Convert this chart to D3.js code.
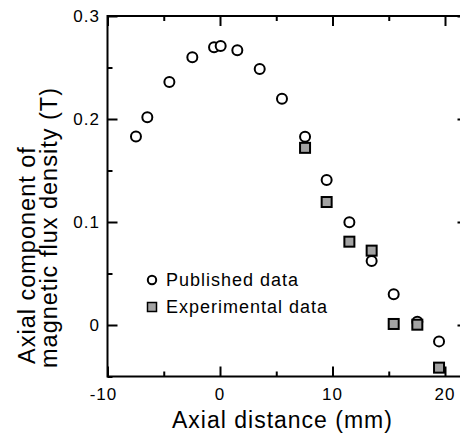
<!DOCTYPE html>
<html>
<head>
<meta charset="utf-8">
<script src="https://cdn.jsdelivr.net/npm/d3@7"></script>
<style>
  body { margin: 0; background: #fff; }
  text { font-family: "Liberation Sans", Arial, sans-serif; fill: #000; letter-spacing: 1px; }
</style>
</head>
<body>
<div id="chart"></div>
<script>
// published data (circles)
var pubX = [-7.47, -6.46, -4.5, -2.46, -0.53, 0.06, 1.54, 3.53, 5.51, 7.56, 9.48, 11.5, 13.48, 15.44, 17.54, 19.47];
var pubY = [0.183, 0.2016, 0.236, 0.26, 0.2696, 0.2709, 0.2667, 0.2485, 0.2197, 0.1828, 0.1408, 0.0997, 0.0621, 0.0298, 0.0032, -0.0159];

// experimental data (squares)
var expX = [7.56, 9.48, 11.5, 13.48, 15.44, 17.54, 19.47];
var expY = [0.172, 0.1194, 0.0809, 0.0722, 0.001, 0.0003, -0.0414];

var xMajor = [-10, 0, 10, 20];
var xMinor = [-5, 5, 15];
var yMajor = [0, 0.1, 0.2, 0.3];
var yMinor = [-0.05, 0.05, 0.15, 0.25];
var xLabels = ['-10', '0', '10', '20'];
var yLabels = ['0', '0.1', '0.2', '0.3'];

var legendNames = ['Published data', 'Experimental data'];

var width = 460;
var height = 434;

var svg = d3.select('#chart')
  .append('svg')
  .attr('width', width)
  .attr('height', height);

var x = d3.scaleLinear()
  .domain([-10, 22])
  .range([107.5, 467.5]);

var y = d3.scaleLinear()
  .domain([-0.05, 0.3])
  .range([376.5, 16]);

var x0 = x.range()[0], x1 = x.range()[1];
var yTop = y.range()[1], yBot = y.range()[0];

// ticks, pointing inward on all four sides
function tickGroup(axis, tx, ty) {
  var g = svg.append('g')
    .attr('transform', 'translate(' + tx + ',' + ty + ')')
    .call(axis);
  g.select('.domain').remove();
  g.selectAll('.tick line').attr('stroke', '#000').attr('stroke-width', 2);
  return g;
}

tickGroup(d3.axisBottom(x).tickValues(xMajor).tickSize(-10).tickFormat(''), 0, yBot);
tickGroup(d3.axisBottom(x).tickValues(xMinor).tickSize(-5).tickFormat(''), 0, yBot);
tickGroup(d3.axisTop(x).tickValues(xMajor).tickSize(-10).tickFormat(''), 0, yTop);
tickGroup(d3.axisTop(x).tickValues(xMinor).tickSize(-5).tickFormat(''), 0, yTop);
tickGroup(d3.axisLeft(y).tickValues(yMajor).tickSize(-10).tickFormat(''), x0, 0);
tickGroup(d3.axisLeft(y).tickValues(yMinor).tickSize(-5).tickFormat(''), x0, 0);
tickGroup(d3.axisRight(y).tickValues(yMajor).tickSize(-10).tickFormat(''), x1, 0);
tickGroup(d3.axisRight(y).tickValues(yMinor).tickSize(-5).tickFormat(''), x1, 0);

// frame
svg.append('rect')
  .attr('x', x0)
  .attr('y', yTop)
  .attr('width', x1 - x0)
  .attr('height', yBot - yTop)
  .attr('fill', 'none')
  .attr('stroke', '#000')
  .attr('stroke-width', 2);

// tick labels
svg.selectAll('.xlabel')
  .data(xMajor)
  .enter()
  .append('text')
  .attr('class', 'xlabel')
  .attr('x', function(d) { return x(d); })
  .attr('dx', function(d) { return d < 0 ? -4 : 0; })
  .attr('y', 400)
  .attr('text-anchor', 'middle')
  .style('font-size', '17px')
  .text(function(d, i) { return xLabels[i]; });

svg.selectAll('.ylabel')
  .data(yMajor)
  .enter()
  .append('text')
  .attr('class', 'ylabel')
  .attr('x', 100)
  .attr('y', function(d) { return y(d); })
  .attr('dy', '0.38em')
  .attr('text-anchor', 'end')
  .style('font-size', '17px')
  .text(function(d, i) { return yLabels[i]; });

// axis titles
svg.append('text')
  .attr('x', 172)
  .attr('y', 428)
  .style('font-size', '23px')
  .text('Axial distance (mm)');

svg.append('text')
  .attr('transform', 'translate(35,364) rotate(-90)')
  .style('font-size', '23.5px')
  .text('Axial component of');

svg.append('text')
  .attr('transform', 'translate(56.5,368) rotate(-90)')
  .style('font-size', '23.5px')
  .text('magnetic flux density (T)');

// published points
svg.selectAll('.pub')
  .data(pubX)
  .enter()
  .append('circle')
  .attr('class', 'pub')
  .attr('cx', function(d) { return x(d); })
  .attr('cy', function(d, i) { return y(pubY[i]); })
  .attr('r', 5)
  .attr('fill', '#fff')
  .attr('stroke', '#000')
  .attr('stroke-width', 2);

// experimental points
var sq = 10;
svg.selectAll('.exp')
  .data(expX)
  .enter()
  .append('rect')
  .attr('class', 'exp')
  .attr('x', function(d) { return x(d) - sq / 2; })
  .attr('y', function(d, i) { return y(expY[i]) - sq / 2; })
  .attr('width', sq)
  .attr('height', sq)
  .attr('fill', '#a3a3a3')
  .attr('stroke', '#000')
  .attr('stroke-width', 2);

// legend
var legend = svg.append('g')
  .attr('transform', 'translate(152,280)');

legend.append('circle')
  .attr('cx', 0)
  .attr('cy', 0)
  .attr('r', 4.2)
  .attr('fill', '#fff')
  .attr('stroke', '#000')
  .attr('stroke-width', 2);

legend.append('rect')
  .attr('x', -4.5)
  .attr('y', 27 - 4.5)
  .attr('width', 9)
  .attr('height', 9)
  .attr('fill', '#a3a3a3')
  .attr('stroke', '#000')
  .attr('stroke-width', 1.5);

legend.selectAll('text')
  .data(legendNames)
  .enter()
  .append('text')
  .attr('x', 14)
  .attr('y', function(d, i) { return i * 27; })
  .attr('dy', '0.36em')
  .style('font-size', '18px')
  .text(function(d) { return d; });
</script>
</body>
</html>
